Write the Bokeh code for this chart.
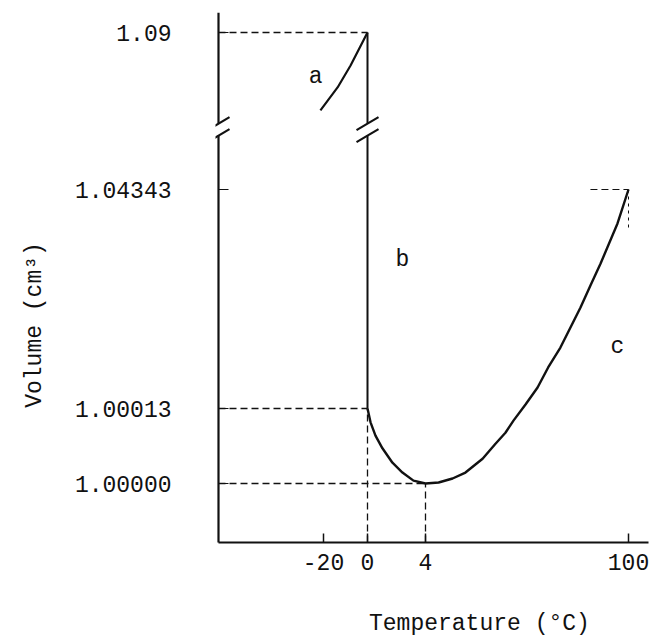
import numpy as np
from bokeh.plotting import figure
from bokeh.models import FixedTicker, Range1d
from bokeh.embed import file_html
from bokeh.resources import INLINE
from bokeh.core.properties import value

# ---------------- data (schematic: volume of 1 g of water) ----------------
ice_temp = [-21.4, -13.6, -7.7, 0.0]
ice_vol = [1.0669, 1.0737, 1.0802, 1.0900]

melt_temp = [0.0, 0.0]
melt_vol = [1.00013, 1.0900]

water_temp = [0.0, 0.21, 0.55, 1.03, 1.72, 2.41, 3.17, 4.0, 10.2, 16.8, 22.9,
              31.0, 37.1, 41.8, 45.6, 51.3, 57.0, 62.0, 67.8, 77.3, 82.0,
              86.8, 94.8, 100.0]
water_vol = [1.00013, 1.000106, 1.000083, 1.000061, 1.000036, 1.000019,
             1.000005, 1.0, 1.0000017, 1.0000087, 1.000019, 1.000043,
             1.000069, 1.000088, 1.000109, 1.000921, 1.00428, 1.00824,
             1.01219, 1.02010, 1.02445, 1.02880, 1.03671, 1.04343]

x_tick_values = [-20, 0, 4, 100]
x_tick_labels = ["-20", "0", "4", "100"]
y_tick_values = [1.00000, 1.00013, 1.04343, 1.09]
y_tick_labels = ["1.00000", "1.00013", "1.04343", "1.09"]

break_vol = 1.0612  # where the volume axis is broken

curve_labels = ["a", "b", "c"]
curve_label_temp = [-23.6, 2.41, 94.8]
curve_label_vol = [1.0767, 1.0294, 1.0122]

x_title = "Temperature (°C)"
y_title = "Volume (cm³)"

# ---------------- schematic (broken) scales ----------------
T_KNOTS = [-70, -20, 0, 4, 100, 110]
X_POS = [-5, 105, 149, 207, 410, 431]
V_KNOTS = [1.0, 1.00013, 1.04343, 1.09, 1.10]
Y_POS = [59, 134, 353, 510, 543.7]


def fx(t):
    return np.round(np.interp(np.asarray(t, dtype=float), T_KNOTS, X_POS), 3)


def fy(v):
    return np.round(np.interp(np.asarray(v, dtype=float), V_KNOTS, Y_POS), 3)


FONT = "Liberation Mono"
FS = "23px"
INK = "#111111"

# frame reaches down to the temperature title; the x labels are drawn as text
p = figure(width=650, height=637, output_backend="svg", toolbar_location=None,
           x_range=Range1d(-3, 432), y_range=Range1d(-95, 530),
           x_axis_location=None,
           min_border_left=215, min_border_right=0, min_border_top=12,
           min_border_bottom=0)
p.outline_line_color = None
p.grid.visible = False
p.background_fill_color = "white"
p.border_fill_color = "white"

yax = p.yaxis[0]
yax.axis_line_color = None
yax.major_tick_line_color = None
yax.minor_tick_line_color = None
yax.major_label_text_font = FONT
yax.major_label_text_font_size = FS
yax.major_label_text_color = INK

xt = [float(v) for v in fx(x_tick_values)]
yt = [float(v) for v in fy(y_tick_values)]
p.yaxis.ticker = FixedTicker(ticks=yt)
p.yaxis.major_label_overrides = {k: s for k, s in zip(yt, y_tick_labels)}
p.yaxis.major_label_standoff = 38
p.yaxis.axis_label = y_title
p.yaxis.axis_label_text_font = FONT
p.yaxis.axis_label_text_font_size = FS
p.yaxis.axis_label_text_font_style = "normal"
p.yaxis.axis_label_text_color = INK
p.yaxis.axis_label_standoff = 24

yb = float(fy(break_vol))
GAP = 6
AX_W = 2.2

# axis lines (volume axis broken)
p.segment(x0=[0, 0, 0], y0=[0, 0, yb + GAP], x1=[430, 0, 0], y1=[0, yb - GAP, 530],
          line_color=INK, line_width=AX_W)
# ticks
p.segment(x0=xt, y0=[0] * len(xt), x1=xt, y1=[9] * len(xt), line_color=INK, line_width=1.5)
p.segment(x0=[0] * len(yt), y0=yt, x1=[10] * len(yt), y1=yt, line_color=INK, line_width=1.2)

# temperature tick labels and axis title
p.text(x=xt, y=[-19] * len(xt), text=x_tick_labels, text_font=value(FONT),
       text_font_size=FS, text_color=INK, text_align="center",
       text_baseline="middle")
p.text(x=[float(fx(29.5))], y=[-81], text=[x_title], text_font=value(FONT),
       text_font_size=FS, text_color=INK, text_align="center",
       text_baseline="middle")

# dashed reference lines
x0c, x4c, x100 = [float(v) for v in fx([0, 4, 100])]
y0v, y13, y4343, y109 = yt
dash = "7 4"
p.segment(x0=[0, 0, 0], y0=[y109, y13, y0v], x1=[x0c, x0c, x4c], y1=[y109, y13, y0v],
          line_color=INK, line_width=1.3, line_dash=dash)
p.segment(x0=[x0c, x4c], y0=[0, 0], x1=[x0c, x4c], y1=[y13, y0v],
          line_color=INK, line_width=1.3, line_dash=dash)
p.segment(x0=[float(fx(82))], y0=[y4343], x1=[x100], y1=[y4343],
          line_color=INK, line_width=1.0, line_dash=dash)
p.segment(x0=[x100], y0=[y4343], x1=[x100], y1=[float(fy(1.0353))],
          line_color=INK, line_width=1.0, line_dash="3 4")

# curves
p.line(fx(ice_temp), fy(ice_vol), line_color=INK, line_width=2.2)
p.line(fx(water_temp), fy(water_vol), line_color=INK, line_width=2.4,
       line_join="round")
mx = float(fx(melt_temp[0]))
p.segment(x0=[mx, mx], y0=[float(fy(melt_vol[0])), yb + GAP], x1=[mx, mx],
          y1=[yb - GAP, float(fy(melt_vol[1]))], line_color=INK, line_width=2)

# break marks on both vertical lines
for bx in (0.0, mx):
    p.segment(x0=[bx - 11, bx - 11], y0=[yb - GAP - 6.5, yb + GAP - 6.5],
              x1=[bx + 11, bx + 11], y1=[yb - GAP + 6.5, yb + GAP + 6.5],
              line_color=INK, line_width=2.2)

# curve letters
p.text(x=fx(curve_label_temp), y=fy(curve_label_vol), text=curve_labels,
       text_font=value(FONT), text_font_size=FS, text_color=INK,
       text_align="center", text_baseline="middle")

open("out.html", "w").write(file_html(p, INLINE))
